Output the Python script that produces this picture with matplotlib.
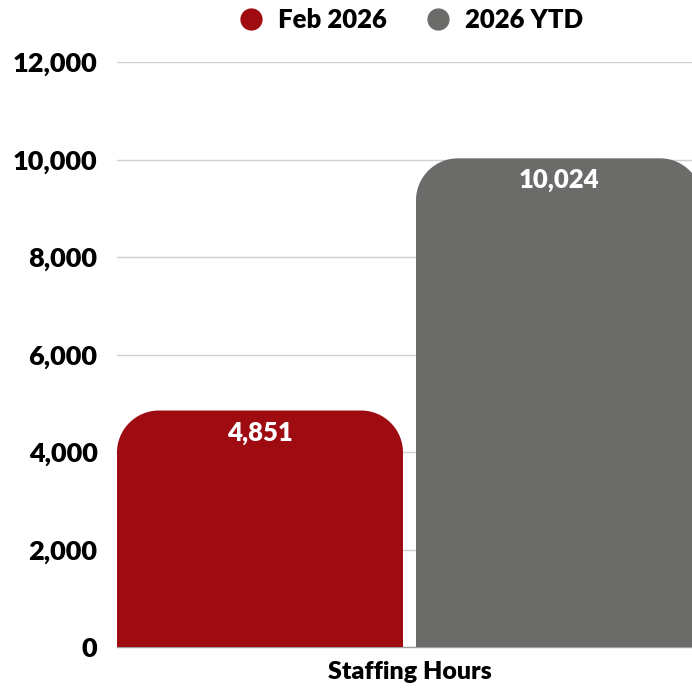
import numpy as np
import matplotlib
matplotlib.use("Agg")
import matplotlib.pyplot as plt
from matplotlib.path import Path
from matplotlib.patches import PathPatch
from matplotlib.lines import Line2D

# data
category = "Staffing Hours"
series = ["Feb 2026", "2026 YTD"]
values = [4851, 10024]
colors = ["#9E0B10", "#6B6B69"]
yticks = [0, 2000, 4000, 6000, 8000, 10000, 12000]

plt.rcParams['font.family'] = ['Lato', 'DejaVu Sans']

fig = plt.figure(figsize=(6.92, 6.90), dpi=100)
ax = fig.add_axes([117 / 692, 43 / 690, 1 - 117 / 692, 585 / 690])

width = 0.9565
xpos = np.arange(len(values))
ax.set_xlim(-width / 2, -width / 2 + 575 / 299)
ax.set_ylim(0, 12000)

# pixel scale so the round corners look circular
px_x = 299.0  # pixels per x unit
px_y = 585.0 / 12000  # pixels per y unit
radius_px = 42


def rounded_top_bar(x0, x1, top, color):
    rx = radius_px / px_x
    ry = radius_px / px_y
    k = 0.5523
    verts = [
        (x0, 0), (x0, top - ry),
        (x0, top - ry + k * ry), (x0 + rx - k * rx, top), (x0 + rx, top),
        (x1 - rx, top),
        (x1 - rx + k * rx, top), (x1, top - ry + k * ry), (x1, top - ry),
        (x1, 0), (x0, 0),
    ]
    codes = [Path.MOVETO, Path.LINETO,
             Path.CURVE4, Path.CURVE4, Path.CURVE4,
             Path.LINETO,
             Path.CURVE4, Path.CURVE4, Path.CURVE4,
             Path.LINETO, Path.CLOSEPOLY]
    ax.add_patch(PathPatch(Path(verts, codes), facecolor=color,
                           edgecolor="none", zorder=3))


for x, v, c in zip(xpos, values, colors):
    rounded_top_bar(x - width / 2, x + width / 2, v, c)
    ax.text(x, v - 22 / px_y, f"{v:,}", ha="center", va="center",
            color="white", fontsize=18.5, fontweight="heavy", zorder=4)

ax.set_yticks(yticks)
ax.set_yticklabels([f"{t:,}" for t in yticks], fontsize=19.5,
                   fontweight="heavy")
ax.set_xticks([0.5])
ax.set_xticklabels([category], fontsize=18, fontweight="heavy")
ax.tick_params(axis="both", length=0, colors="black")
ax.tick_params(axis="y", pad=14)
ax.tick_params(axis="x", pad=10)
ax.grid(axis="y", color="#D0D0D0", linewidth=1, zorder=0)
ax.set_axisbelow(True)
for s in ["top", "right", "left"]:
    ax.spines[s].set_visible(False)
ax.spines["bottom"].set_color("#A0A0A0")
ax.spines["bottom"].set_linewidth(1)

handles = [Line2D([], [], marker="o", linestyle="none", markersize=15,
                  markerfacecolor=c, markeredgecolor=c) for c in colors]
fig.legend(handles, series, loc="center", bbox_to_anchor=(404 / 692, 1 - 20 / 690),
           ncol=2, frameon=False, handletextpad=0.05, columnspacing=1.0,
           prop={"size": 18.5, "weight": "heavy"})

fig.savefig("out.png", dpi=100)
